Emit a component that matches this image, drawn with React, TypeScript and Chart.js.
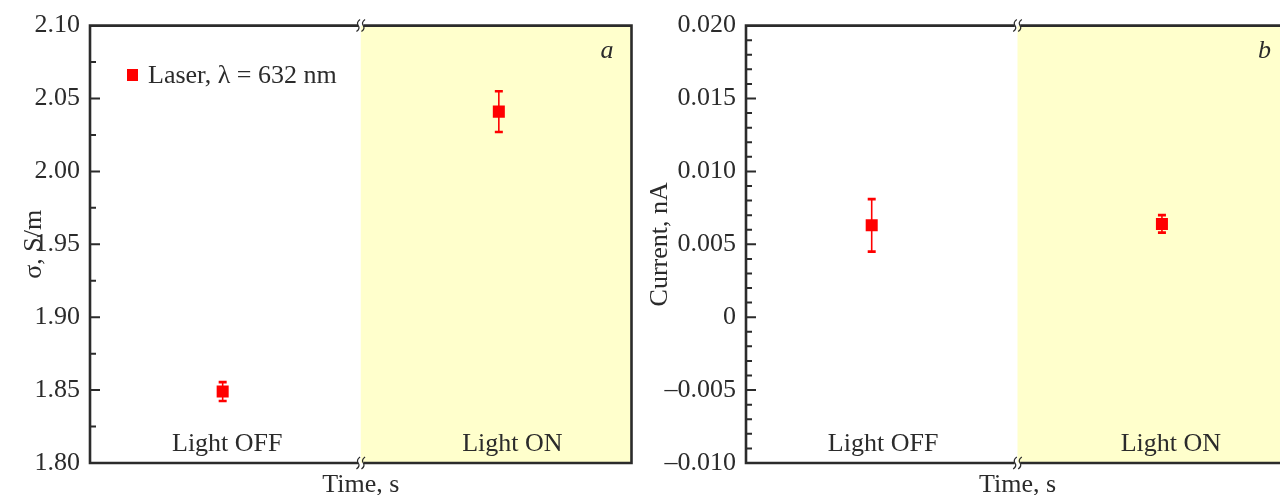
import React, { useEffect, useRef } from 'react';
import { Chart, registerables } from 'chart.js';

Chart.register(...registerables);

const FONT = '"Liberation Serif", "Times New Roman", serif';
const TEXT = '#2b2b2b';
const AXIS = '#2b2b2b';
const RED = '#ff0000';
const SHADE = '#ffffcc';

// shared categories
const conditions = ['Light OFF', 'Light ON'];
const xTitle = 'Time, s';

// Panel a: conductivity
const aPointX = [0.49, 1.51];
const aSigma = [1.849, 2.041];
const aSigmaErr = [0.0065, 0.014];
const aLabelX = [0.507, 1.56];
const aYMin = 1.8;
const aYMax = 2.1;
const aMinorStep = 0.025;
const aMajorEvery = 2;
const aTitle = 'σ, S/m';
const aLegend = 'Laser, λ = 632 nm';

// Panel b: current
const bPointX = [0.463, 1.532];
const bCurrent = [0.0063, 0.0064];
const bCurrentErr = [0.0018, 0.0006];
const bLabelX = [0.505, 1.565];
const bYMin = -0.01;
const bYMax = 0.02;
const bMinorStep = 0.001;
const bMajorEvery = 5;
const bTitle = 'Current, nA';

type PanelCfg = {
  xs: number[];
  ys: number[];
  errs: number[];
  labelX: number[];
  yMin: number;
  yMax: number;
  minor: number;
  majorEvery: number;
  fmt: (v: number) => string;
  yTitle: string;
  yTitleX: number;
  letter: string;
  legend?: string;
  axisWidth: number;
  padRight: number;
  rightBorder: boolean;
};

function isMajor(v: number, minor: number, every: number) {
  const k = Math.round(v / minor);
  return k % every === 0;
}

function drawBreak(ctx: CanvasRenderingContext2D, bx: number, y: number) {
  ctx.save();
  ctx.strokeStyle = AXIS;
  ctx.lineWidth = 1.2;
  for (const dx of [-2.5, 2.5]) {
    const x0 = bx + dx;
    ctx.beginPath();
    ctx.moveTo(x0 + 1.8, y - 6);
    ctx.quadraticCurveTo(x0 - 2.2, y - 3, x0, y);
    ctx.quadraticCurveTo(x0 + 2.2, y + 3, x0 - 1.8, y + 6);
    ctx.stroke();
  }
  ctx.restore();
}

function makePlugin(c: PanelCfg) {
  return {
    id: 'panelDecor',
    beforeDatasetsDraw(chart: any) {
      const { ctx, chartArea: ca } = chart;
      const x = chart.scales.x;
      const y = chart.scales.y;
      const bx = x.getPixelForValue(1);
      ctx.save();
      ctx.fillStyle = SHADE;
      ctx.fillRect(bx, ca.top, ca.right - bx, ca.bottom - ca.top);
      ctx.strokeStyle = RED;
      c.xs.forEach((xv, i) => {
        const px = x.getPixelForValue(xv);
        const yt = y.getPixelForValue(c.ys[i] + c.errs[i]);
        const yb = y.getPixelForValue(c.ys[i] - c.errs[i]);
        ctx.lineWidth = 1.6;
        ctx.beginPath();
        ctx.moveTo(px, yt);
        ctx.lineTo(px, yb);
        ctx.stroke();
        ctx.lineWidth = 2.6;
        ctx.beginPath();
        ctx.moveTo(px - 4, yt);
        ctx.lineTo(px + 4, yt);
        ctx.moveTo(px - 4, yb);
        ctx.lineTo(px + 4, yb);
        ctx.stroke();
      });
      ctx.restore();
    },
    afterDatasetsDraw(chart: any) {
      const { ctx, chartArea: ca } = chart;
      const x = chart.scales.x;
      const y = chart.scales.y;
      const bx = x.getPixelForValue(1);
      ctx.save();
      ctx.strokeStyle = AXIS;
      ctx.lineCap = 'square';
      ctx.lineWidth = 2.6;
      ctx.beginPath();
      ctx.moveTo(ca.left, ca.top);
      ctx.lineTo(ca.left, ca.bottom);
      // top & bottom lines with break
      for (const yy of [ca.top, ca.bottom]) {
        ctx.moveTo(ca.left, yy);
        ctx.lineTo(bx - 4, yy);
        ctx.moveTo(bx + 4, yy);
        ctx.lineTo(ca.right, yy);
      }
      if (c.rightBorder) {
        ctx.moveTo(ca.right, ca.top);
        ctx.lineTo(ca.right, ca.bottom);
      }
      ctx.stroke();
      ctx.lineCap = 'butt';
      // ticks inward
      ctx.lineWidth = 2;
      ctx.beginPath();
      for (const t of y.ticks) {
        const py = y.getPixelForValue(t.value);
        if (py <= ca.top + 1 || py >= ca.bottom - 1) continue;
        const len = isMajor(t.value, c.minor, c.majorEvery) ? 10 : 6;
        ctx.moveTo(ca.left, py);
        ctx.lineTo(ca.left + len, py);
      }
      ctx.stroke();
      drawBreak(ctx, bx, ca.top);
      drawBreak(ctx, bx, ca.bottom);

      ctx.fillStyle = TEXT;
      ctx.font = `26px ${FONT}`;
      ctx.textBaseline = 'alphabetic';
      ctx.textAlign = 'center';
      conditions.forEach((lab, i) => {
        ctx.fillText(lab, x.getPixelForValue(c.labelX[i]), ca.bottom - 12);
      });
      // x title
      ctx.fillText(xTitle, (ca.left + ca.right) / 2, 492);
      // y title
      ctx.save();
      ctx.translate(c.yTitleX, (ca.top + ca.bottom) / 2);
      ctx.rotate(-Math.PI / 2);
      ctx.fillText(c.yTitle, 0, 0);
      ctx.restore();
      // panel letter
      ctx.font = `italic 26px ${FONT}`;
      ctx.textAlign = 'right';
      ctx.fillText(c.letter, ca.right - 18, ca.top + 32);
      // legend
      if (c.legend) {
        ctx.fillStyle = RED;
        ctx.fillRect(127, 69, 11, 12);
        ctx.fillStyle = TEXT;
        ctx.font = `26px ${FONT}`;
        ctx.textAlign = 'left';
        ctx.fillText(c.legend, 148, 83);
      }
      ctx.restore();
    },
  };
}

function Panel(props: { cfg: PanelCfg; left: number; width: number }) {
  const ref = useRef<HTMLCanvasElement>(null);
  useEffect(() => {
    const c = props.cfg;
    const chart = new Chart(ref.current as HTMLCanvasElement, {
      type: 'scatter',
      data: {
        datasets: [
          {
            data: c.xs.map((xv, i) => ({ x: xv, y: c.ys[i] })),
            pointStyle: 'rect',
            pointRadius: 8.5,
            pointHoverRadius: 8.5,
            backgroundColor: RED,
            borderWidth: 0,
          },
        ],
      },
      options: {
        animation: false,
        responsive: false,
        devicePixelRatio: 1,
        events: [],
        layout: { padding: { top: 25, bottom: 32, right: c.padRight, left: 0 } },
        plugins: { legend: { display: false }, tooltip: { enabled: false } },
        scales: {
          x: { type: 'linear', min: 0, max: 2, display: false },
          y: {
            type: 'linear',
            min: c.yMin,
            max: c.yMax,
            grid: { display: false, drawTicks: false },
            border: { display: false },
            afterFit: (s: any) => {
              s.width = c.axisWidth;
            },
            ticks: {
              stepSize: c.minor,
              autoSkip: false,
              padding: 10,
              color: TEXT,
              font: { family: FONT, size: 26 },
              callback: (v: any) => {
                const n = Number(v);
                return isMajor(n, c.minor, c.majorEvery) ? c.fmt(n) : '';
              },
            },
          },
        },
      },
      plugins: [makePlugin(c)],
    } as any);
    return () => chart.destroy();
  }, []);
  return (
    <canvas
      ref={ref}
      width={props.width}
      height={495}
      style={{ position: 'absolute', left: props.left, top: 0, width: props.width, height: 495, display: 'block' }}
    />
  );
}

const cfgA: PanelCfg = {
  xs: aPointX,
  ys: aSigma,
  errs: aSigmaErr,
  labelX: aLabelX,
  yMin: aYMin,
  yMax: aYMax,
  minor: aMinorStep,
  majorEvery: aMajorEvery,
  fmt: (v) => v.toFixed(2),
  yTitle: aTitle,
  yTitleX: 41,
  letter: 'a',
  legend: aLegend,
  axisWidth: 90,
  padRight: 6,
  rightBorder: true,
};

const cfgB: PanelCfg = {
  xs: bPointX,
  ys: bCurrent,
  errs: bCurrentErr,
  labelX: bLabelX,
  yMin: bYMin,
  yMax: bYMax,
  minor: bMinorStep,
  majorEvery: bMajorEvery,
  fmt: (v) => (Math.round(v / bMinorStep) === 0 ? '0' : (v < 0 ? '\u2013' : '') + Math.abs(v).toFixed(3)),
  yTitle: bTitle,
  yTitleX: 27,
  letter: 'b',
  axisWidth: 106,
  padRight: 11,
  rightBorder: true,
};

export default function App() {
  return (
    <div
      style={{
        position: 'fixed',
        left: 0,
        top: 0,
        width: 1280,
        height: 495,
        overflow: 'hidden',
        background: '#fff',
      }}
    >
      <Panel cfg={cfgA} left={0} width={640} />
      <Panel cfg={cfgB} left={640} width={660} />
    </div>
  );
}
